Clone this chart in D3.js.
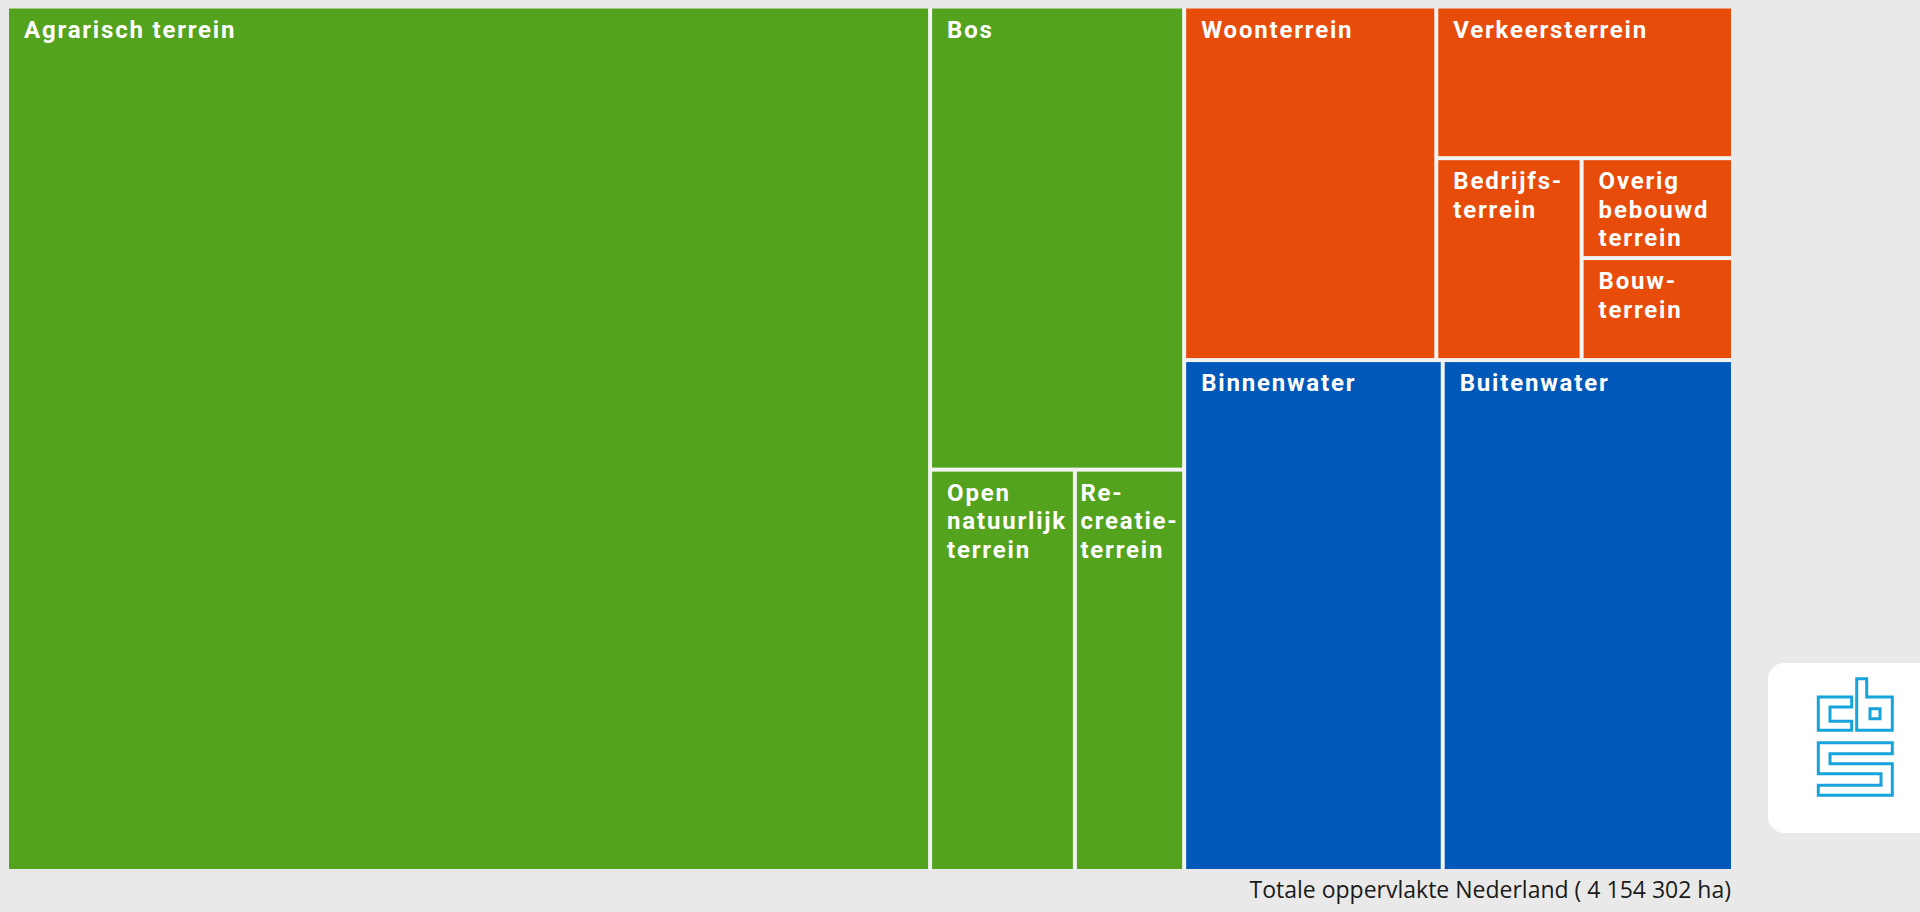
<!DOCTYPE html>
<html>
<head>
<meta charset="utf-8">
<script src="https://cdn.jsdelivr.net/npm/d3@7"></script>
<style>
  html, body { margin: 0; padding: 0; background: #e9e9e9; overflow: hidden; }
  svg { display: block; }
</style>
</head>
<body>
<svg id="chart" width="1920" height="912"></svg>
<script>
// ---- data (hectares) ----
const categories = [
  "Agrarisch terrein", "Bos", "Open natuurlijk terrein", "Recreatieterrein",
  "Woonterrein", "Verkeersterrein", "Bedrijfsterrein", "Overig bebouwd terrein", "Bouwterrein",
  "Binnenwater", "Buitenwater"
];
const labelLines = [
  ["Agrarisch terrein"], ["Bos"], ["Open", "natuurlijk", "terrein"], ["Re-", "creatie-", "terrein"],
  ["Woonterrein"], ["Verkeersterrein"], ["Bedrijfs-", "terrein"], ["Overig", "bebouwd", "terrein"], ["Bouw-", "terrein"],
  ["Binnenwater"], ["Buitenwater"]
];
const values = [2221800, 327600, 161800, 122100, 248200, 125300, 81700, 42100, 43000, 367800, 412902];
const groups = ["natuur", "natuur", "natuur", "natuur", "bebouwd", "bebouwd", "bebouwd", "bebouwd", "bebouwd", "water", "water"];
const groupColors = { natuur: "#53a31e", bebouwd: "#e84c0b", water: "#0058b8" };
const footnote = "Totale oppervlakte Nederland ( 4 154 302 ha)";

// ---- layout ----
const X0 = 9, Y0 = 8.5, W = 1722, H = 860.5;
const svg = d3.select("#chart");

const leaf = i => ({ i, name: categories[i], value: values[i] });
const tree = {
  children: [
    leaf(0),
    { children: [leaf(1), { children: [leaf(2), leaf(3)] }] },
    { children: [
      { children: [leaf(4), { children: [leaf(5), { children: [leaf(6), { children: [leaf(7), leaf(8)] }] }] }] },
      { children: [leaf(9), leaf(10)] }
    ] }
  ]
};

const root = d3.hierarchy(tree).sum(d => d.children ? 0 : d.value);
d3.treemap().tile(d3.treemapSliceDice).size([W, H]).paddingInner(4)(root);

const g = svg.append("g").attr("transform", `translate(${X0},${Y0})`);
g.append("rect").attr("x", 0).attr("y", 0).attr("width", W).attr("height", H).attr("fill", "#f3f3f3");

const cells = g.selectAll("g.cell").data(root.leaves()).join("g").attr("class", "cell");
cells.append("rect")
  .attr("x", d => d.x0).attr("y", d => d.y0)
  .attr("width", d => d.x1 - d.x0).attr("height", d => d.y1 - d.y0)
  .attr("fill", d => groupColors[groups[d.data.i]]);

cells.append("text")
  .attr("fill", "#ffffff")
  .attr("font-family", "Roboto, sans-serif")
  .attr("font-weight", 700)
  .attr("font-size", 24)
  .attr("letter-spacing", 1.8)
  .each(function(d) {
    const t = d3.select(this);
    const spans = labelLines[d.data.i].map((line, k) =>
      t.append("tspan").attr("y", d.y0 + 29 + k * 28.5).text(line));
    const tw = d3.max(spans, s => s.node().getComputedTextLength());
    const w = d.x1 - d.x0;
    const off = (tw + 15 <= w - 3) ? 15 : Math.max(3, (w - tw) / 2);
    spans.forEach(s => s.attr("x", d.x0 + off));
  });

svg.append("text")
  .attr("x", X0 + W).attr("y", 898)
  .attr("text-anchor", "end")
  .attr("fill", "#1a1a1a")
  .attr("font-family", "'Open Sans', sans-serif")
  .attr("font-size", 23)
  .text(footnote);

// ---- CBS logo ----
const logo = svg.append("g");
logo.append("rect").attr("x", 1768).attr("y", 663).attr("width", 180).attr("height", 170).attr("rx", 16).attr("fill", "#ffffff");
const lc = "#17a4dc";
const paths = [
  // c
  "M1851.7,697 H1818.3 V730.3 H1851.7 V721.3 H1830 V707 H1851.7 Z",
  // b
  "M1856.7,678.7 H1866.7 V697 H1892.3 V730.3 H1856.7 Z",
  "M1870,708.7 H1880 V718.7 H1870 Z",
  // s
  "M1818.3,742.7 H1892.3 V753.7 H1830 V763.7 H1892.3 V795.3 H1818.3 V785.3 H1881 V773.7 H1818.3 Z"
];
logo.selectAll("path").data(paths).join("path")
  .attr("d", d => d).attr("fill", "none").attr("stroke", lc).attr("stroke-width", 3);
</script>
</body>
</html>
